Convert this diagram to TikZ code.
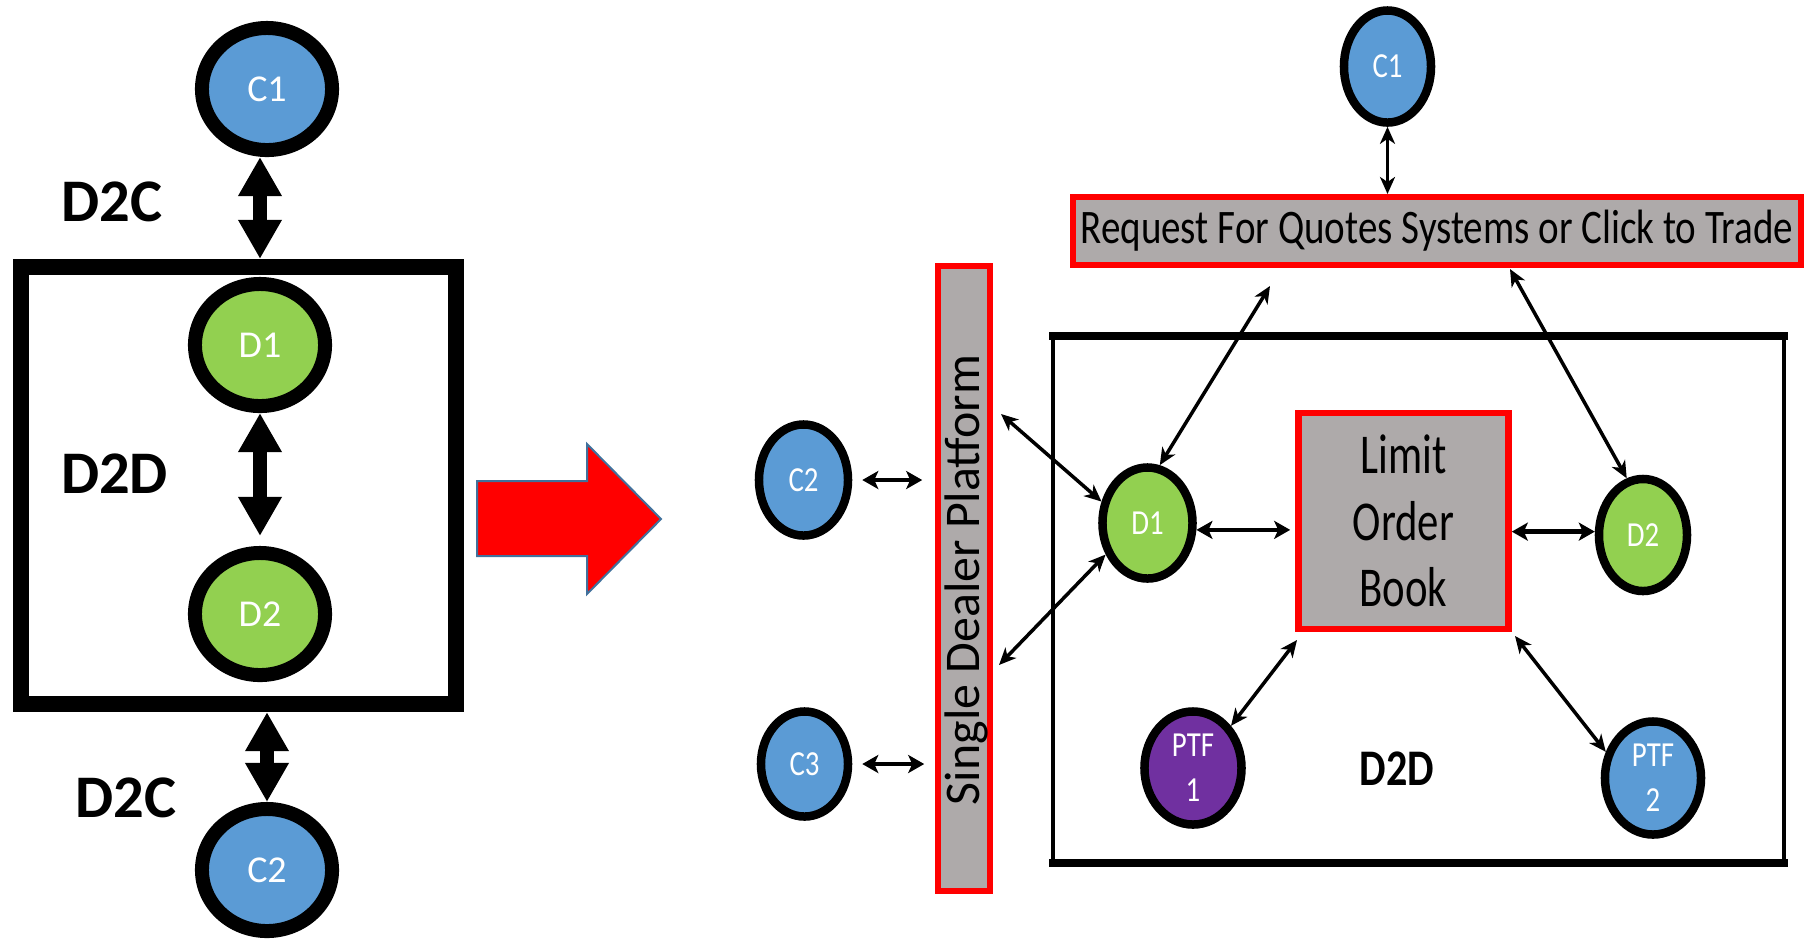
\documentclass[tikz,border=0pt]{standalone}
\usepackage{graphicx}
\usepackage{fontspec}
\setmainfont{Carlito}
\usetikzlibrary{arrows.meta,shapes.geometric}
\definecolor{cblue}{HTML}{5B9BD5}
\definecolor{cgreen}{HTML}{92D050}
\definecolor{cpurple}{HTML}{7030A0}
\definecolor{cgray}{HTML}{AEAAAA}
\definecolor{cred}{HTML}{FF0000}
\definecolor{cedge}{HTML}{41719C}
\newcommand{\sxr}[1]{\scalebox{0.82}[1]{#1}}
\newcommand{\sxb}[1]{\scalebox{0.76}[1]{#1}}
\tikzset{
  lell/.style={ellipse, draw=black, line width=0.14cm, inner sep=0pt, minimum width=1.30cm, minimum height=1.22cm, text=white, font=\fontsize{10.8}{13}\selectfont},
  rell/.style={ellipse, draw=black, line width=0.085cm, inner sep=0pt, text=white, font=\fontsize{10}{12.8}\selectfont, align=center},
  lbl/.style={font=\bfseries\fontsize{17.2}{20}\selectfont, inner sep=0pt},
  fat/.style={line width=0.13cm, {Triangle[width=0.41cm,length=0.39cm]}-{Triangle[width=0.41cm,length=0.39cm]}},
  tarr/.style={line width=0.035cm, {Stealth[length=0.17cm,width=0.15cm,inset=0.05cm]}-{Stealth[length=0.17cm,width=0.15cm,inset=0.05cm]}},
  karr/.style={line width=0.045cm, {Stealth[length=0.16cm,width=0.18cm,inset=0.04cm]}-{Stealth[length=0.16cm,width=0.18cm,inset=0.04cm]}},
  grayred/.style={draw=cred, fill=cgray, inner sep=0pt},
}
\begin{document}
\begin{tikzpicture}[x=0.01cm,y=-0.01cm]
\useasboundingbox (0,0) rectangle (1811,938);
% ---------- left part ----------
\node[draw, line width=0.16cm, minimum width=4.35cm, minimum height=4.37cm, inner sep=0pt] (boxl) at (238.5,485.5) {};
\node[lell, fill=cblue] (c1l) at (267,89) {C1};
\node[lell, fill=cgreen] (d1l) at (260,345) {D1};
\node[lell, fill=cgreen] (d2l) at (260,614) {D2};
\node[lell, fill=cblue] (c2l) at (267,870) {C2};
\node[lbl] (t1) at (112,201.5) {D2C};
\node[lbl] (t2) at (114.5,474) {D2D};
\node[lbl] (t3) at (126,798) {D2C};
\draw[fat] (c1l.south -| d1l.north) -- (boxl.north -| d1l.north);
\draw[fat, shorten >=0.10cm] (d1l.south) -- (d2l.north);
\draw[fat] (boxl.south -| c2l.north) -- (c2l.north);
% red arrow
\filldraw[fill=cred, draw=cedge, line width=0.02cm] (477,481) -- (587,481) -- (587,444) -- (661,519) -- (587,594) -- (587,556) -- (477,556) -- cycle;
% ---------- right part ----------
\node[draw, line width=0.045cm, outer sep=0pt, minimum width=7.31cm, minimum height=5.27cm, inner sep=0pt] (boxr) at (1418.5,599.5) {};
\draw[line width=0.08cm, line cap=rect] (boxr.north west) -- (boxr.north east);
\draw[line width=0.08cm, line cap=rect] (boxr.south west) -- (boxr.south east);
\node[grayred, line width=0.06cm, minimum width=7.28cm, minimum height=0.68cm] (rfq) at (1437,231) {\fontsize{13.7}{16}\selectfont\scalebox{0.81}[1]{Request For Quotes Systems or Click to Trade}};
\node[grayred, line width=0.055cm, minimum width=0.52cm, minimum height=6.25cm] (sdp) at (964,578.5) {};
\node[rotate=90, font=\fontsize{14.2}{16}\selectfont, inner sep=0pt] (sdpt) at (966,580) {Single Dealer Platform};
\node[grayred, line width=0.065cm, minimum width=2.10cm, minimum height=2.16cm, align=center, font=\fontsize{16}{19}\selectfont] (lob) at (1403.5,521) {\sxb{Limit}\\\sxb{Order}\\\sxb{Book}};
\node[rell, fill=cblue, minimum width=0.87cm, minimum height=1.12cm] (c1r) at (1387.5,66.5) {\sxr{C1}};
\node[rell, fill=cblue, minimum width=0.89cm, minimum height=1.11cm] (c2r) at (803.5,480) {\sxr{C2}};
\node[rell, fill=cblue, minimum width=0.87cm, minimum height=1.05cm] (c3r) at (804.5,764) {\sxr{C3}};
\node[rell, fill=cgreen, minimum width=0.90cm, minimum height=1.11cm] (d1r) at (1147.5,523) {\sxr{D1}};
\node[rell, fill=cgreen, minimum width=0.88cm, minimum height=1.12cm] (d2r) at (1643,535) {\sxr{D2}};
\node[rell, fill=cpurple, minimum width=0.97cm, minimum height=1.13cm] (p1) at (1193,768) {\sxr{PTF}\\\sxr{1}};
\node[rell, fill=cblue, minimum width=0.96cm, minimum height=1.13cm] (p2) at (1653,778) {\sxr{PTF}\\\sxr{2}};
\node[font=\bfseries\fontsize{14.6}{17}\selectfont, inner sep=0pt] (d2dr) at (1397,768.5) {\scalebox{0.82}[1]{D2D}};
\coordinate (rfqL) at (1270,286);
\coordinate (rfqR) at (1510,269);
\coordinate (sdpA) at (1001,414);
\coordinate (sdpB) at (999,665);
\coordinate (lobA) at (1297,640);
\coordinate (lobB) at (1515,636);
\draw[tarr] (c1r.south) -- (c1r.south |- rfq.north);
\draw[tarr] (rfqL) -- (d1r.78);
\draw[tarr] (rfqR) -- (d2r.106);
\draw[tarr] (sdpA) -- (d1r.155);
\draw[tarr] (sdpB) -- (d1r.217);
\draw[karr, shorten >=0.05cm] (d1r.-8) -- (d1r.-8 -| lob.west);
\draw[karr] (lob.east |- d2r.176) -- (d2r.176);
\draw[tarr] (lobA) -- (p1.48);
\draw[tarr] (lobB) -- (p2.151);
\draw[karr, shorten <=0.10cm, shorten >=0.13cm] (c2r.east) -- (c2r.east -| sdp.west);
\draw[karr, shorten <=0.10cm, shorten >=0.11cm] (c3r.east) -- (c3r.east -| sdp.west);
\end{tikzpicture}
\end{document}
